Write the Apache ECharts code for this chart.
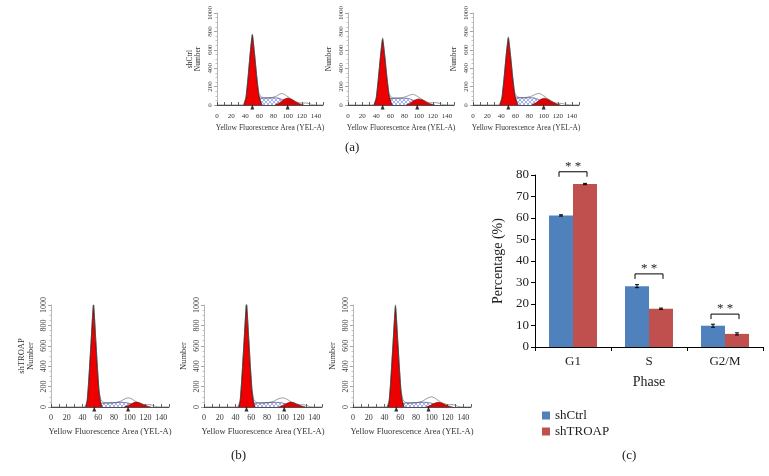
<!DOCTYPE html>
<html>
<head>
<meta charset="utf-8">
<script src="https://cdn.jsdelivr.net/npm/echarts@6/dist/echarts.min.js"></script>
<style>html,body{margin:0;background:#fff;}#chart{width:769px;height:476px;}</style>
</head>
<body>
<div id="chart"></div>
<script>
// ---- flow histograms, (a) shCtrl ----
var a1Total = [[0,0],[35,0],[38,12],[41,90],[44,310],[47,570],[50,772],[53,575],[56,335],[59,140],[62,90],[66,80],[72,78],[78,82],[84,96],[88,116],[92,125],[96,112],[100,92],[105,66],[110,42],[115,26],[120,20],[125,22],[130,16],[135,4],[140,0],[150,0]];
var a1G1 = [[38,0],[41,80],[44,300],[47,560],[50,760],[53,560],[56,320],[59,120],[62,30],[64,0]];
var a1S = [[40,0],[45,18],[50,45],[55,65],[60,74],[70,76],[80,78],[86,76],[92,60],[98,35],[104,14],[110,0]];
var a1G2 = [[82,0],[88,22],[94,58],[100,75],[106,60],[112,32],[118,9],[123,0]];
var a1Marks = [50, 100];

var a2Total = [[0,0],[34,0],[37,12],[40,85],[43,300],[46,540],[49,730],[52,545],[55,315],[58,132],[61,86],[65,78],[71,76],[77,80],[83,94],[88,110],[92,116],[96,104],[100,86],[105,60],[110,38],[115,24],[120,24],[125,26],[130,16],[135,4],[140,0],[150,0]];
var a2G1 = [[37,0],[40,75],[43,285],[46,530],[49,715],[52,530],[55,300],[58,112],[61,28],[63,0]];
var a2S = [[39,0],[44,18],[49,44],[54,62],[59,70],[69,72],[79,74],[85,72],[91,56],[97,32],[103,12],[109,0]];
var a2G2 = [[82,0],[88,20],[94,52],[100,66],[106,54],[112,28],[118,8],[123,0]];
var a2Marks = [49, 98];

var a3Total = [[0,0],[35,0],[38,12],[41,88],[44,305],[47,550],[50,742],[53,555],[56,325],[59,138],[62,92],[66,82],[72,80],[78,86],[84,100],[89,118],[94,126],[98,110],[102,90],[106,64],[110,42],[115,26],[120,18],[125,16],[130,10],[135,3],[140,0],[150,0]];
var a3G1 = [[38,0],[41,78],[44,292],[47,540],[50,728],[53,540],[56,308],[59,116],[62,30],[64,0]];
var a3S = [[40,0],[45,18],[50,46],[55,66],[60,76],[70,78],[80,80],[86,78],[92,62],[98,36],[104,14],[110,0]];
var a3G2 = [[83,0],[89,24],[95,58],[101,74],[107,60],[113,32],[119,9],[124,0]];
var a3Marks = [50, 100];

// ---- flow histograms, (b) shTROAP ----
var b1Total = [[0,0],[41,0],[44,15],[46,70],[48,270],[51,650],[54,1020],[57,655],[59,395],[61,175],[63,80],[66,48],[72,38],[80,40],[88,55],[94,80],[98,90],[102,82],[106,62],[110,45],[115,30],[120,22],[125,24],[130,14],[134,3],[140,0],[150,0]];
var b1G1 = [[44,0],[46,60],[48,260],[51,640],[54,1000],[57,640],[59,380],[61,160],[63,50],[65,0]];
var b1S = [[44,0],[50,12],[56,28],[62,36],[70,40],[80,44],[90,46],[96,42],[102,30],[108,14],[114,0]];
var b1G2 = [[93,0],[98,14],[103,34],[108,48],[113,40],[118,22],[123,7],[127,0]];
var b1Marks = [55, 98];

var b2Total = [[0,0],[41,0],[44,15],[46,72],[48,275],[51,660],[54,1030],[57,665],[59,400],[61,178],[63,80],[66,48],[72,38],[80,40],[88,54],[94,78],[100,90],[104,82],[108,64],[112,46],[117,30],[122,22],[127,22],[131,12],[135,3],[140,0],[150,0]];
var b2G1 = [[44,0],[46,62],[48,265],[51,648],[54,1010],[57,648],[59,385],[61,162],[63,50],[65,0]];
var b2S = [[44,0],[50,12],[56,28],[62,36],[70,40],[80,44],[90,46],[98,42],[104,30],[110,14],[116,0]];
var b2G2 = [[95,0],[100,14],[105,34],[110,48],[115,40],[120,22],[125,7],[129,0]];
var b2Marks = [54, 102];

var b3Total = [[0,0],[41,0],[44,15],[46,70],[48,268],[51,645],[54,1005],[57,650],[59,390],[61,172],[63,80],[66,48],[72,38],[80,40],[88,56],[94,84],[100,100],[104,88],[108,66],[112,46],[117,30],[122,22],[127,24],[131,12],[135,3],[140,0],[150,0]];
var b3G1 = [[44,0],[46,58],[48,255],[51,630],[54,985],[57,630],[59,372],[61,155],[63,48],[65,0]];
var b3S = [[44,0],[50,12],[56,28],[62,36],[70,40],[80,44],[90,46],[97,42],[103,30],[109,14],[115,0]];
var b3G2 = [[93,0],[98,14],[103,34],[108,46],[113,38],[118,20],[123,6],[127,0]];
var b3Marks = [55, 96];

// ---- (c) cell cycle percentages ----
var phases = ['G1', 'S', 'G2/M'];
var shCtrl = [61.2, 28.3, 9.9];
var shTROAP = [75.8, 17.8, 6.1];
var shCtrlErr = [0.3, 0.7, 0.7];
var shTROAPErr = [0.3, 0.3, 0.5];
var sigLevel = [81.5, 34, 15.3];

var serif = 'Liberation Serif';

// cross hatch for S phase
var hatch = document.createElement('canvas');
hatch.width = 4; hatch.height = 4;
var hg = hatch.getContext('2d');
hg.fillStyle = '#fbfbff'; hg.fillRect(0,0,4,4);
hg.strokeStyle = '#6f7fe0'; hg.lineWidth = 0.6;
hg.beginPath(); hg.moveTo(0,4); hg.lineTo(4,0); hg.moveTo(0,0); hg.lineTo(4,4); hg.stroke();

var panels = [
  {left:217, top:13, width:106, height:92, fs:7, lm:8, name:'shCtrl\nNumber', d:[a1Total,a1G1,a1S,a1G2,a1Marks]},
  {left:348, top:13, width:106, height:92, fs:7, lm:8, name:'Number', d:[a2Total,a2G1,a2S,a2G2,a2Marks]},
  {left:473, top:13, width:106, height:92, fs:7, lm:8, name:'Number', d:[a3Total,a3G1,a3S,a3G2,a3Marks]},
  {left:51, top:305, width:118, height:102, fs:8, lm:7, name:'shTROAP\nNumber', d:[b1Total,b1G1,b1S,b1G2,b1Marks]},
  {left:204, top:305, width:118, height:102, fs:8, lm:7, name:'Number', d:[b2Total,b2G1,b2S,b2G2,b2Marks]},
  {left:353, top:305, width:118, height:102, fs:8, lm:7, name:'Number', d:[b3Total,b3G1,b3S,b3G2,b3Marks]}
];

var grids = [], xAxes = [], yAxes = [], series = [];
panels.forEach(function(p, i) {
  grids.push({left:p.left, top:p.top, width:p.width, height:p.height});
  xAxes.push({
    gridIndex:i, type:'value', min:0, max:150, interval:10,
    axisLine:{lineStyle:{color:'#222', width:0.8}},
    axisTick:{inside:true, length:3, lineStyle:{color:'#222', width:0.7}},
    splitLine:{show:false},
    axisLabel:{fontSize:p.fs, fontFamily:serif, color:'#333', margin:p.lm,
      formatter:function(v){ return (v % 20 === 0 && v <= 140) ? String(v) : ''; }},
    name:'Yellow Fluorescence Area (YEL-A)', nameLocation:'middle', nameGap:p.fs + 12,
    nameTextStyle:{fontSize:p.fs + 0.5, fontFamily:serif, color:'#333'}
  });
  yAxes.push({
    gridIndex:i, type:'value', min:0, max:1000, interval:200,
    axisLine:{show:true, lineStyle:{color:'#888', width:0.6}},
    axisTick:{show:true, length:3, lineStyle:{color:'#666', width:0.6}},
    minorTick:{show:true, splitNumber:4, length:1.5, lineStyle:{color:'#999', width:0.6}},
    splitLine:{show:false},
    axisLabel:{rotate:90, fontSize:p.fs, fontFamily:serif, color:'#444', margin:3,
      formatter:function(v){ return String(v); }},
    name:p.name, nameLocation:'middle', nameRotate:90, nameGap:p.fs + 8,
    nameTextStyle:{fontSize:p.fs + 0.5, fontFamily:serif, color:'#333', lineHeight:p.fs + 1}
  });
  var base = {type:'line', xAxisIndex:i, yAxisIndex:i, symbol:'none', smooth:0.15, silent:true};
  series.push(Object.assign({}, base, {data:p.d[2], z:1,
    lineStyle:{color:'#2a3680', width:0.6}, areaStyle:{color:{image:hatch, repeat:'repeat'}, opacity:1}}));
  series.push(Object.assign({}, base, {data:p.d[1], z:2,
    lineStyle:{color:'#111', width:0.7}, areaStyle:{color:'#ee0000', opacity:1}}));
  series.push(Object.assign({}, base, {data:p.d[3], z:2,
    lineStyle:{color:'#6a0000', width:0.6}, areaStyle:{color:'#e10000', opacity:1}}));
  series.push(Object.assign({}, base, {data:p.d[0], z:3,
    lineStyle:{color:'#555', width:0.6}}));
  series.push({type:'scatter', xAxisIndex:i, yAxisIndex:i, silent:true, clip:false, z:4,
    data:p.d[4].map(function(m){ return [m, 0]; }),
    symbol:'triangle', symbolSize:[4,5], symbolOffset:[0,2], itemStyle:{color:'#000'}});
});

// bar chart (c)
var bi = panels.length;
grids.push({left:535, top:175, width:228, height:172});
xAxes.push({
  gridIndex:bi, type:'category', data:phases,
  axisLine:{lineStyle:{color:'#000', width:1}},
  axisTick:{show:true, length:4, lineStyle:{color:'#000'}},
  axisLabel:{fontSize:13, fontFamily:serif, color:'#222', margin:8},
  name:'Phase', nameLocation:'middle', nameGap:28,
  nameTextStyle:{fontSize:14, fontFamily:serif, color:'#222'}
});
yAxes.push({
  gridIndex:bi, type:'value', min:0, max:80, interval:10,
  axisLine:{show:true, lineStyle:{color:'#000', width:1}},
  axisTick:{show:true, length:4, lineStyle:{color:'#000'}},
  splitLine:{show:false},
  axisLabel:{fontSize:13, fontFamily:serif, color:'#222', margin:6},
  name:'Percentage (%)', nameLocation:'middle', nameRotate:90, nameGap:30,
  nameTextStyle:{fontSize:14, fontFamily:serif, color:'#222'}
});
series.push({name:'shCtrl', type:'bar', xAxisIndex:bi, yAxisIndex:bi, data:shCtrl,
  barWidth:24, barGap:'0%', itemStyle:{color:'#4f81bd'}});
series.push({name:'shTROAP', type:'bar', xAxisIndex:bi, yAxisIndex:bi, data:shTROAP,
  barWidth:24, itemStyle:{color:'#c0504d'}});

function errRender(offset) {
  return function(params, api) {
    var i = api.value(0), v = api.value(1), e = api.value(2);
    var hi = api.coord([i, v + e]), lo = api.coord([i, v - e]);
    var x = hi[0] + offset;
    var st = {stroke:'#000', lineWidth:1};
    return {type:'group', children:[
      {type:'line', shape:{x1:x, y1:hi[1], x2:x, y2:lo[1]}, style:st},
      {type:'line', shape:{x1:x-2, y1:hi[1], x2:x+2, y2:hi[1]}, style:st},
      {type:'line', shape:{x1:x-2, y1:lo[1], x2:x+2, y2:lo[1]}, style:st}
    ]};
  };
}
series.push({type:'custom', xAxisIndex:bi, yAxisIndex:bi, z:5, silent:true,
  data:shCtrl.map(function(v, i){ return [i, v, shCtrlErr[i]]; }), renderItem:errRender(-12)});
series.push({type:'custom', xAxisIndex:bi, yAxisIndex:bi, z:5, silent:true,
  data:shTROAP.map(function(v, i){ return [i, v, shTROAPErr[i]]; }), renderItem:errRender(12)});
series.push({type:'custom', xAxisIndex:bi, yAxisIndex:bi, z:5, silent:true, clip:false,
  data:sigLevel.map(function(v, i){ return [i, v]; }),
  renderItem:function(params, api) {
    var c = api.coord([api.value(0), api.value(1)]);
    var x0 = c[0] - 14, x1 = c[0] + 14, y = c[1];
    return {type:'group', children:[
      {type:'polyline', shape:{points:[[x0, y+5],[x0, y],[x1, y],[x1, y+5]]},
        style:{stroke:'#000', lineWidth:1, fill:null}},
      {type:'text', style:{text:'* *', x:c[0], y:y + 1, align:'center', verticalAlign:'bottom',
        font:'13px ' + serif, fill:'#222'}}
    ]};
  }});

var chart = echarts.init(document.getElementById('chart'));
chart.setOption({
  animation:false,
  backgroundColor:'#fff',
  grid:grids, xAxis:xAxes, yAxis:yAxes, series:series,
  legend:{data:['shCtrl','shTROAP'], orient:'vertical', left:537, top:404,
    itemWidth:8, itemHeight:8, itemGap:3, icon:'rect',
    textStyle:{fontSize:13, fontFamily:serif, color:'#222'}},
  graphic:[
    {type:'text', left:345, top:141, style:{text:'(a)', font:'13px ' + serif, fill:'#222'}},
    {type:'text', left:231, top:449, style:{text:'(b)', font:'13px ' + serif, fill:'#222'}},
    {type:'text', left:622, top:449, style:{text:'(c)', font:'13px ' + serif, fill:'#222'}}
  ]
});
</script>
</body>
</html>
